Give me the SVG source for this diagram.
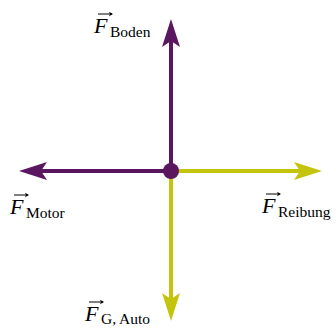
<svg xmlns="http://www.w3.org/2000/svg" width="336" height="329" viewBox="0 0 336 329">
<style>
.p{stroke:#5b1660;fill:none;stroke-width:4}
.y{stroke:#c3c40b;fill:none;stroke-width:4}
.hp{fill:#5b1660}
.hy{fill:#c3c40b}
.F{font-family:"Liberation Serif",serif;font-style:italic;font-size:22px;fill:#000}
.s{font-family:"Liberation Serif",serif;font-size:15.5px;fill:#000}
.va{stroke:#000;stroke-width:1;fill:none}
</style>
<defs>
<path id="vh" d="M0,0 L-4,-2.2 L-3,0 L-4,2.2 Z" fill="#000"/>
</defs>
<g id="connectors">
<line class="p" x1="171" y1="171" x2="171" y2="40"/>
<path class="hp" d="M171,19 L180,47 L171,41 L162,47 Z"/>
<line class="p" x1="171" y1="171" x2="40" y2="171"/>
<path class="hp" d="M19,171 L47,162 L41,171 L47,180 Z"/>
<line class="y" x1="171" y1="171" x2="302" y2="171"/>
<path class="hy" d="M322,171 L294,162 L300,171 L294,180 Z"/>
<line class="y" x1="171" y1="171" x2="171" y2="300"/>
<path class="hy" d="M171,321 L162,293 L171,299 L180,293 Z"/>
</g>
<g id="center"><circle cx="171" cy="171" r="8" fill="#5b1660"/></g>
<g id="label-boden">
<line class="va" x1="98" y1="14" x2="112" y2="14"/><use href="#vh" x="113" y="14"/>
<text class="F" x="94" y="33">F</text>
<text class="s" x="110" y="37">Boden</text>
</g>
<g id="label-motor">
<line class="va" x1="14" y1="195" x2="28" y2="195"/><use href="#vh" x="29" y="195"/>
<text class="F" x="10" y="214">F</text>
<text class="s" x="26" y="218">Motor</text>
</g>
<g id="label-reibung">
<line class="va" x1="266" y1="194" x2="280" y2="194"/><use href="#vh" x="281" y="194"/>
<text class="F" x="262" y="213">F</text>
<text class="s" x="278" y="217">Reibung</text>
</g>
<g id="label-gauto">
<line class="va" x1="89" y1="302" x2="103" y2="302"/><use href="#vh" x="104" y="302"/>
<text class="F" x="85" y="321">F</text>
<text class="s" x="101" y="324">G, Auto</text>
</g>
</svg>
